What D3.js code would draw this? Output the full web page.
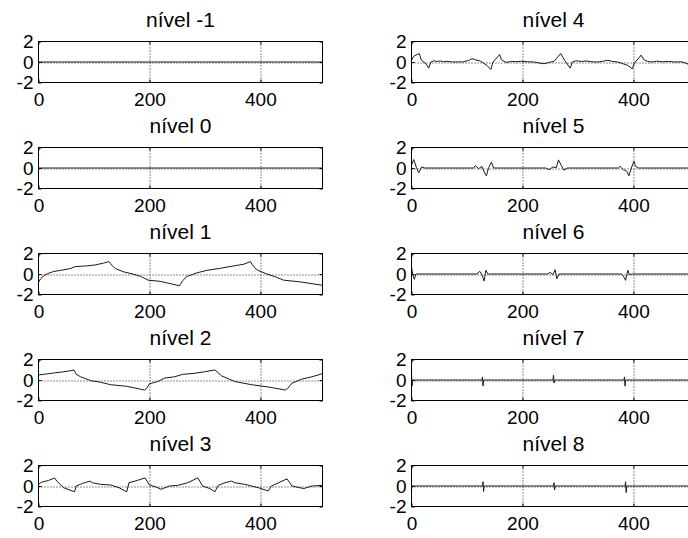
<!DOCTYPE html>
<html>
<head>
<meta charset="utf-8">
<script src="https://cdn.jsdelivr.net/npm/d3@7"></script>
<style>
  body { margin: 0; background: #fff; }
  svg { display: block; }
  text { font-family: "Liberation Sans", Arial, Helvetica, sans-serif; fill: #000; }
</style>
</head>
<body>
<svg id="chart" width="688" height="538"></svg>
<script>
// Tick values shared by every panel
const xTicks = [0, 200, 400];
const yTicks = [-2, 0, 2];
const xDomain = [0, 512];
const yDomain = [-2, 2];

// Panel titles, left column then right column
const titlesLeft = ["nível -1", "nível 0", "nível 1", "nível 2", "nível 3"];
const titlesRight = ["nível 4", "nível 5", "nível 6", "nível 7", "nível 8"];

// Signals per level as [sample, value] pairs
const nivelM1 = [[0, 0], [512, 0]];
const nivel0 = [[0, 0], [512, 0]];
const nivel1 = [[0,-0.8],[4,-0.45],[10,-0.15],[16,0.03],[27,0.24],[40,0.36],[57,0.52],[66,0.72],[87,0.79],[102,0.88],[117,1.06],[127,1.21],[130,1.0],[134,0.75],[139,0.52],[154,0.2],[170,0.0],[184,-0.23],[198,-0.6],[220,-0.72],[254,-1.15],[257,-0.9],[260,-0.65],[267,-0.25],[286,0.12],[304,0.36],[328,0.56],[352,0.79],[370,0.95],[382,1.21],[385,0.95],[390,0.6],[395,0.36],[412,0.0],[428,-0.3],[442,-0.6],[473,-0.78],[512,-1.1]];
const nivel2 = [[0,0.49],[9,0.55],[27,0.68],[45,0.8],[60,0.92],[64,0.98],[68,0.55],[76,0.31],[94,-0.06],[112,-0.22],[130,-0.46],[160,-0.62],[191,-0.98],[195,-0.83],[200,-0.37],[215,-0.15],[227,0.18],[245,0.31],[260,0.55],[281,0.65],[299,0.8],[318,0.98],[322,0.8],[330,0.4],[354,-0.15],[384,-0.46],[414,-0.68],[445,-0.98],[449,-0.83],[457,-0.31],[475,0.09],[493,0.31],[512,0.62]];
const nivel3 = [[0,0.16],[6,0.38],[18,0.54],[29,0.79],[33,0.48],[45,-0.16],[65,-0.57],[68,0],[79,0.25],[93,0.48],[97,0.32],[112,0.16],[130,0.1],[145,-0.16],[159,-0.57],[163,0.32],[178,0.54],[192,0.79],[200,0.1],[212,-0.1],[221,-0.32],[236,0],[251,0.06],[269,0.32],[287,0.79],[296,0],[309,-0.25],[318,-0.57],[324,0.06],[336,0.32],[348,0.48],[354,0.32],[372,0.16],[396,-0.16],[414,-0.48],[420,0],[433,0.32],[448,0.7],[457,0],[478,-0.25],[493,0],[512,0.06]];
const nivel4 = [[0,0.17],[4,0.57],[14,0.83],[18,0.17],[26,-0.17],[31,-0.6],[35,0],[40,0.12],[45,0.05],[52,0.1],[58,0.02],[64,0.06],[75,0],[94,0.02],[103,0.15],[109,0.33],[116,0.2],[124,0.1],[136,-0.33],[143,-0.73],[147,0],[159,0.73],[162,0.23],[167,0.05],[172,-0.03],[180,0.06],[188,0.02],[197,0.07],[210,0.02],[221,0],[230,-0.1],[239,-0.17],[248,-0.05],[257,0.07],[269,0.83],[276,0.17],[286,-0.6],[290,0],[297,0.12],[306,0.05],[315,0.1],[325,0.02],[336,0],[346,0.08],[354,0.17],[363,0.05],[372,0],[390,-0.33],[398,-0.67],[402,-0.1],[414,0.67],[419,0.23],[426,0.05],[433,0],[442,0.08],[452,0.02],[463,0.05],[475,0],[487,0.02],[494,-0.1],[499,-0.23],[506,-0.05],[512,0]];
const nivel5 = [[0,0.3],[4,0.82],[9,0.03],[13,-0.47],[18,0.1],[24,0],[112,0],[115,0.22],[121,-0.06],[127,0.16],[131,-0.38],[135,-0.76],[139,0.03],[144,0.57],[148,0],[242,0],[248,-0.16],[255,0.1],[261,0.03],[265,0.79],[270,0.25],[275,-0.22],[281,0],[373,0],[376,0.16],[382,-0.16],[388,-0.31],[392,-0.76],[397,0.1],[401,0.66],[404,0.16],[409,0],[512,0]];
const nivel6 = [[0,0.69],[2,0.03],[5,-0.52],[8,0],[118,0],[123,0.26],[127,-0.07],[131,-0.69],[134,0.36],[138,-0.03],[141,0],[245,0],[250,0.16],[255,-0.07],[259,0.43],[262,-0.46],[266,0],[379,0],[382,-0.2],[386,-0.62],[390,0.36],[393,-0.07],[397,0],[512,0]];
const nivel7 = [[0,0.7],[1,-0.6],[2,0],[127,0],[128,0.3],[129,-0.58],[130,0],[255,0],[256,0.48],[257,-0.3],[258,0],[383,0],[384,0.3],[385,-0.6],[386,0],[512,0]];
const nivel8 = [[0,-0.38],[1,0],[128,0],[129,0.42],[130,-0.54],[131,0],[256,0],[257,0.32],[258,-0.38],[259,0],[385,0],[386,0.42],[387,-0.64],[388,0],[512,0]];

const seriesLeft = [nivelM1, nivel0, nivel1, nivel2, nivel3];
const seriesRight = [nivel4, nivel5, nivel6, nivel7, nivel8];

// Layout of the 5 x 2 grid of panels
const colLeft = [38.5, 411.5];
const rowTop0 = 41.5;
const rowStep = 106;
const panelW = 284;
const panelH = 41;

const svg = d3.select("#chart");
const x = d3.scaleLinear().domain(xDomain).range([0, panelW]);
const y = d3.scaleLinear().domain(yDomain).range([panelH, 0]);
const line = d3.line().x(d => x(d[0])).y(d => y(d[1]));

const panels = [];
titlesLeft.forEach((t, i) => panels.push({ title: t, data: seriesLeft[i], col: 0, row: i }));
titlesRight.forEach((t, i) => panels.push({ title: t, data: seriesRight[i], col: 1, row: i }));

panels.forEach((p, k) => {
  const g = svg.append("g")
    .attr("transform", `translate(${colLeft[p.col]},${rowTop0 + p.row * rowStep})`);

  g.append("clipPath").attr("id", "clip" + k)
    .append("rect").attr("width", panelW).attr("height", panelH);

  // dotted grid
  g.append("g").selectAll("line").data(xTicks.filter(v => v > xDomain[0])).join("line")
    .attr("x1", d => Math.round(x(d)) + 0.5).attr("x2", d => Math.round(x(d)) + 0.5)
    .attr("y1", 0).attr("y2", panelH)
    .attr("stroke", "#222").attr("stroke-dasharray", "1,2");
  g.append("g").selectAll("line").data(yTicks.filter(v => v > yDomain[0] && v < yDomain[1])).join("line")
    .attr("x1", 0).attr("x2", panelW)
    .attr("y1", d => Math.round(y(d)) + 0.5).attr("y2", d => Math.round(y(d)) + 0.5)
    .attr("stroke", "#222").attr("stroke-dasharray", "1,2");

  // signal
  g.append("path").datum(p.data)
    .attr("clip-path", `url(#clip${k})`)
    .attr("fill", "none").attr("stroke", "#1a1a1a").attr("stroke-width", 1)
    .attr("d", line);

  // axes with inward ticks
  const fmt = d => String(d);
  const xa = g.append("g").attr("transform", `translate(0,${panelH})`)
    .call(d3.axisBottom(x).tickValues(xTicks).tickSize(-3).tickPadding(10).tickFormat(fmt));
  const ya = g.append("g")
    .call(d3.axisLeft(y).tickValues(yTicks).tickSize(-3).tickPadding(5).tickFormat(fmt));
  g.append("g").call(d3.axisTop(x).tickValues(xTicks).tickSize(-3).tickFormat(""));
  g.append("g").attr("transform", `translate(${panelW},0)`)
    .call(d3.axisRight(y).tickValues(yTicks).tickSize(-3).tickFormat(""));
  g.selectAll(".domain").remove();
  g.selectAll(".tick line").attr("stroke", "#000");
  [xa, ya].forEach(a => a.selectAll("text")
    .attr("fill", "#000").style("font-size", "19px")
    .style("font-family", '"Liberation Sans", Arial, sans-serif'));

  // frame
  g.append("rect").attr("width", panelW).attr("height", panelH)
    .attr("fill", "none").attr("stroke", "#000").attr("stroke-width", 1);

  // title
  g.append("text").attr("x", panelW / 2).attr("y", -15)
    .attr("text-anchor", "middle").style("font-size", "21px")
    .text(p.title);
});
</script>
</body>
</html>
